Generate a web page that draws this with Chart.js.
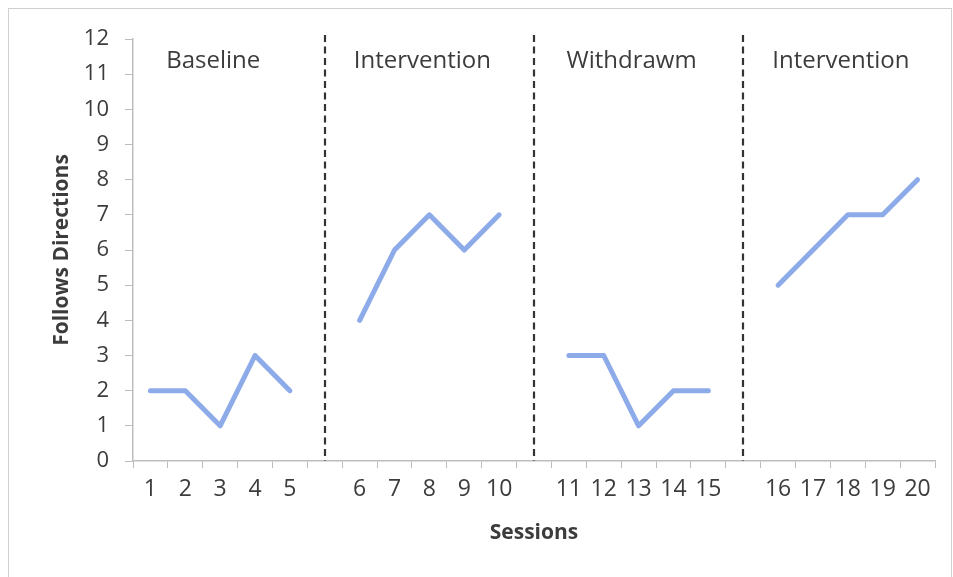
<!DOCTYPE html>
<html>
<head>
<meta charset="utf-8">
<script src="https://cdn.jsdelivr.net/npm/chart.js@4.4.0/dist/chart.umd.min.js"></script>
<style>
  html, body { margin: 0; padding: 0; background: #fff; }
  #wrap { position: relative; width: 953px; height: 577px; }
  #frame { position: absolute; left: 8px; top: 8px; width: 944px; height: 600px; border: 1px solid #d0d0d0; box-sizing: border-box; }
  canvas { position: absolute; left: 0; top: 0; }
</style>
</head>
<body>
<div id="wrap">
  <div id="frame"></div>
  <canvas id="grafico" width="953" height="577"></canvas>
</div>
<script>
// fases del diseño ABAB
const phases = ["Baseline", "Intervention", "Withdrawm", "Intervention"];
const sessions = [
    ["1", "2", "3", "4", "5"],
    ["6", "7", "8", "9", "10"],
    ["11", "12", "13", "14", "15"],
    ["16", "17", "18", "19", "20"]
];
const baseline = [2, 2, 1, 3, 2];
const intervention1 = [4, 6, 7, 6, 7];
const withdrawal = [3, 3, 1, 2, 2];
const intervention2 = [5, 6, 7, 7, 8];
const yTicks = [0, 1, 2, 3, 4, 5, 6, 7, 8, 9, 10, 11, 12];

const textColor = "#3c3c3c";
const fontFam = "'Open Sans', sans-serif";

// armar etiquetas y valores con un hueco entre fases
const series = [baseline, intervention1, withdrawal, intervention2];
const labels = [];
const values = [];
const gapIdx = [];
const phaseCenter = [];
series.forEach((vals, p) => {
    if (p > 0) {
        gapIdx.push(labels.length);
        labels.push("");
        values.push(null);
    }
    phaseCenter.push(labels.length + 2);
    vals.forEach((v, i) => {
        labels.push(sessions[p][i]);
        values.push(v);
    });
});

// líneas punteadas y nombres de fase
const phasePlugin = {
    id: "phases",
    afterDatasetsDraw(chart) {
        const { ctx, chartArea, scales } = chart;
        ctx.save();
        ctx.strokeStyle = "#333";
        ctx.lineWidth = 2.2;
        ctx.setLineDash([7, 4.5]);
        gapIdx.forEach((g) => {
            const x = Math.round(scales.x.getPixelForValue(g));
            ctx.beginPath();
            ctx.moveTo(x, chartArea.top - 4);
            ctx.lineTo(x, chartArea.bottom);
            ctx.stroke();
        });
        ctx.setLineDash([]);
        ctx.fillStyle = textColor;
        ctx.font = "24px " + fontFam;
        ctx.textAlign = "center";
        ctx.textBaseline = "middle";
        phases.forEach((name, p) => {
            const x = scales.x.getPixelForValue(phaseCenter[p]) - 7;
            ctx.fillText(name, x, 61);
        });
        ctx.restore();
    }
};

const ctx = document.getElementById("grafico").getContext("2d");
new Chart(ctx, {
    type: "line",
    data: {
        labels: labels,
        datasets: [{
            data: values,
            borderColor: "#8dabe8",
            borderWidth: 5,
            borderCapStyle: "round",
            borderJoinStyle: "round",
            pointRadius: 0,
            spanGaps: false,
            tension: 0
        }]
    },
    options: {
        responsive: false,
        animation: false,
        layout: { padding: { left: 0, top: 39, right: 18, bottom: 0 } },
        plugins: { legend: { display: false }, tooltip: { enabled: false } },
        scales: {
            x: {
                type: "category",
                offset: true,
                afterFit: (s) => { s.height = 116; },
                grid: { display: true, offset: true, drawOnChartArea: false, drawTicks: true, tickLength: 7, color: "#bdbdbd" },
                border: { color: "#bdbdbd", width: 1.5 },
                ticks: { color: textColor, font: { size: 23, family: fontFam }, padding: 8, autoSkip: false, maxRotation: 0 },
                title: { display: true, text: "Sessions", color: textColor, font: { size: 21, weight: "bold", family: fontFam }, padding: { top: 0, bottom: 31 } }
            },
            y: {
                min: 0,
                max: 12,
                afterFit: (s) => { s.width = 133; },
                afterBuildTicks: (s) => { s.ticks = yTicks.map((v) => ({ value: v })); },
                grid: { display: true, drawOnChartArea: false, drawTicks: true, tickLength: 8, color: "#bdbdbd" },
                border: { color: "#bdbdbd", width: 1.5 },
                ticks: { color: textColor, font: { size: 22, family: fontFam }, padding: 16 },
                title: { display: true, text: "Follows Directions", color: textColor, font: { size: 21, weight: "bold", family: fontFam }, padding: { top: 49, bottom: 0 } }
            }
        }
    },
    plugins: [phasePlugin]
});
</script>
</body>
</html>
